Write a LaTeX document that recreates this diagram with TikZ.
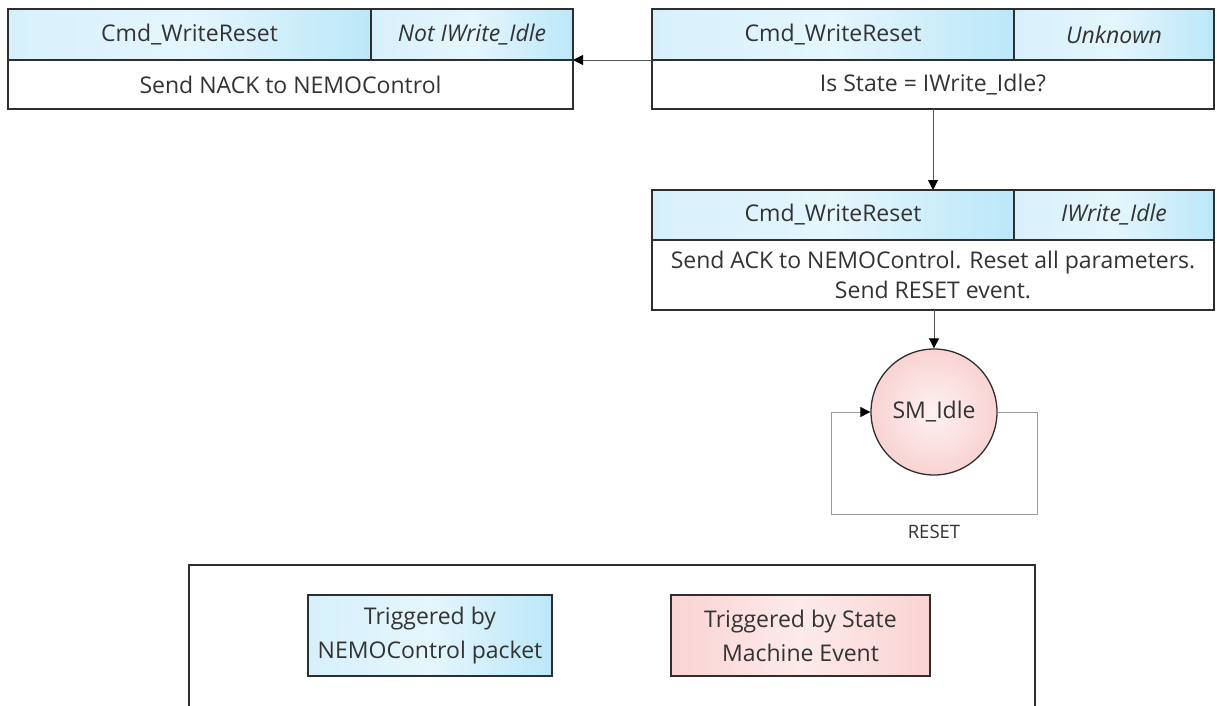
\documentclass[tikz,border=0pt]{standalone}
\usepackage{fontspec}
\setmainfont{Open Sans}
\usetikzlibrary{arrows.meta}

\definecolor{ink}{HTML}{333333}
\definecolor{frame}{HTML}{2E2E2E}
\definecolor{wire}{HTML}{555555}
\definecolor{loopwire}{HTML}{9A9A9A}
\definecolor{blueL}{HTML}{D6F0FB}
\definecolor{blueM}{HTML}{E5F6FD}
\definecolor{blueR}{HTML}{BBE7F8}
\definecolor{pinkL}{HTML}{FAD3D3}
\definecolor{pinkM}{HTML}{FDEAEA}
\definecolor{pinkR}{HTML}{FAD3D3}
\definecolor{pinkIn}{HTML}{FEF1F1}
\definecolor{pinkOut}{HTML}{F9D3D3}

\tikzset{
  cell/.style={draw=frame, line width=1.3pt, inner sep=0pt, outer sep=0pt,
    anchor=north west, text=ink, font=\fontsize{23}{30}\selectfont, align=center},
  headcell/.style={cell, left color=blueL, right color=blueR, middle color=blueM},
  bodycell/.style={cell, fill=white},
  netkey/.style={cell, left color=blueL, right color=blueR, middle color=blueM,
    font=\fontsize{23}{34}\selectfont},
  smkey/.style={cell, left color=pinkL, right color=pinkR, middle color=pinkM,
    font=\fontsize{23}{34}\selectfont},
  smstate/.style={circle, draw=frame, line width=1.3pt, inner sep=0pt,
    minimum size=126pt, inner color=pinkIn, outer color=pinkOut,
    text=ink, font=\fontsize{23}{27}\selectfont},
  flow/.style={draw=wire, line width=0.9pt,
    -{Triangle[length=10pt,width=10pt,fill=black,color=black]}},
  selfloop/.style={draw=loopwire, line width=0.9pt,
    -{Triangle[length=10pt,width=10pt,fill=black,color=black]}},
  looplabel/.style={text=ink, font=\fontsize{18.5}{22}\selectfont}
}

\begin{document}
\begin{tikzpicture}[x=1pt,y=-1pt]
\useasboundingbox (0,0) rectangle (1217,705);

% Rejected command: state is not IWrite_Idle
\node[headcell, minimum width=363pt, minimum height=51pt] (nackname) at (8,9) {Cmd\_WriteReset};
\node[headcell, minimum width=202pt, minimum height=51pt] (nackcond) at (371,9) {\itshape Not IWrite\_Idle};
\node[bodycell, minimum width=565pt, minimum height=49pt] (nack) at (8,60) {Send NACK to NEMOControl};

% Incoming command, state not yet checked
\node[headcell, minimum width=362pt, minimum height=51pt] (askname) at (652,9) {Cmd\_WriteReset};
\node[headcell, minimum width=200pt, minimum height=51pt] (askcond) at (1014,9) {\itshape Unknown};
\node[bodycell, minimum width=562pt, minimum height=49pt] (ask) at (652,60) {Is State = IWrite\_Idle?};

% Accepted command
\node[headcell, minimum width=362pt, minimum height=50pt] (ackname) at (652,190) {Cmd\_WriteReset};
\node[headcell, minimum width=200pt, minimum height=50pt] (ackcond) at (1014,190) {\itshape IWrite\_Idle};
\node[bodycell, minimum width=562pt, minimum height=70pt] (ack) at (652,240)
  {Send ACK to NEMOControl. Reset all parameters.\\Send RESET event.};

% State machine
\node[smstate] (idle) at (934,412) {SM\_Idle};
\coordinate (loopR) at (1037,514);
\coordinate (loopL) at (831,514);

% Connectors
\draw[flow] (askname.south west) -- (nackcond.south east);
\draw[flow] (ask.south) -- (ack.south |- ackname.north);
\draw[flow] (ack.south -| idle.north) -- (idle.north);
\draw[selfloop] (idle.east) -| (loopR) -- node[looplabel, below=7pt] {RESET} (loopL) |- (idle.west);

% Legend
\coordinate (legTL) at (189,565);
\coordinate (legTR) at (1035,565);
\draw[draw=frame, line width=1.5pt] (189,706) -- (legTL) -- (legTR) -- (1035,706);
\node[netkey, minimum width=244pt, minimum height=81pt] (keynet) at (308,595) {Triggered by\\NEMOControl packet};
\node[smkey, minimum width=259pt, minimum height=81pt] (keysm) at (671,595) {Triggered by State\\Machine Event};
\end{tikzpicture}
\end{document}
